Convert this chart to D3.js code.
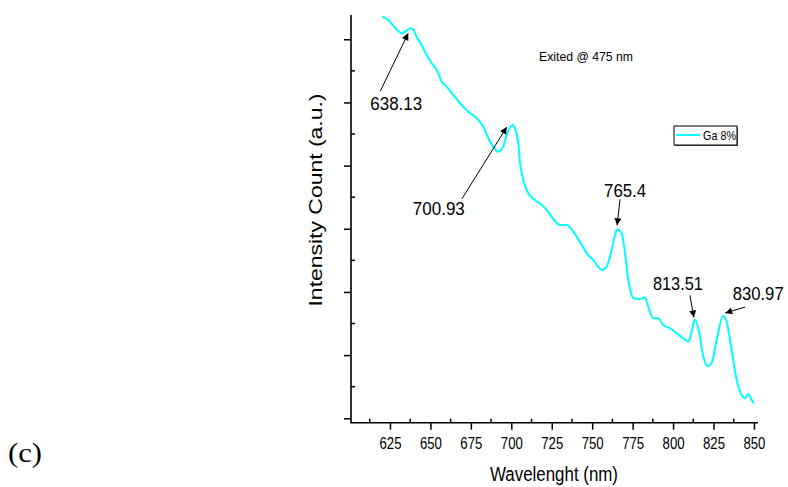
<html>
<head>
<script src="https://d3js.org/d3.v7.min.js"></script>
<style type="text/css">
body { margin: 0; background-color: #ffffff; }
svg { display: block; }
text { fill: #000; }
</style>
</head>
<body>
<script>
// emission spectrum, Ga 8% (excited @ 475 nm)
let wavelength = [620.2, 624.0, 627.0, 630.1, 632.2, 634.3, 635.9, 638.1, 639.5, 641.5,
    644.6, 647.7, 650.8, 653.9, 657.0, 660.0, 664.1, 668.3, 673.4, 678.6,
    682.7, 685.8, 688.8, 691.9, 695.0, 697.1, 700.9, 702.3, 704.3, 705.4,
    707.4, 710.5, 714.6, 718.8, 721.9, 730.1, 734.2, 738.3, 740.4, 742.4,
    746.6, 750.7, 755.9, 758.9, 762.0, 764.1, 765.4, 768.2, 770.3, 772.3,
    773.3, 775.4, 779.5, 782.6, 784.7, 787.7, 790.8, 793.9, 798.1, 802.2,
    806.3, 809.4, 811.5, 813.5, 816.2, 818.7, 821.7, 823.8, 826.9, 831.0,
    833.1, 836.2, 839.3, 842.4, 844.4, 846.5, 848.6, 850.0]
let intensity = [6.357, 6.305, 6.215, 6.131, 6.095, 6.120, 6.147, 6.174, 6.147, 6.041,
    5.909, 5.751, 5.620, 5.514, 5.329, 5.249, 5.118, 4.987, 4.854, 4.749,
    4.616, 4.433, 4.300, 4.220, 4.300, 4.485, 4.643, 4.591, 4.353, 4.037,
    3.772, 3.562, 3.456, 3.377, 3.298, 3.061, 3.061, 2.954, 2.875, 2.796,
    2.612, 2.506, 2.348, 2.400, 2.664, 2.902, 2.992, 2.929, 2.612, 2.189,
    2.058, 1.900, 1.889, 1.915, 1.767, 1.583, 1.583, 1.477, 1.425, 1.346,
    1.266, 1.213, 1.371, 1.564, 1.346, 0.975, 0.828, 0.871, 1.240, 1.619,
    1.529, 1.081, 0.606, 0.369, 0.317, 0.385, 0.290, 0.237]

let peakLabels = ["638.13", "700.93", "765.4", "813.51", "830.97"]
let peakWavelength = [638.13, 700.93, 765.4, 813.51, 830.97]
let xTicks = [625, 650, 675, 700, 725, 750, 775, 800, 825, 850]
let yTicks = [0, 1, 2, 3, 4, 5, 6]
let seriesName = "Ga 8%"

function init() {
    let width = 788
    let height = 487
    let sans = "Liberation Sans, Arial, sans-serif"
    let svg = d3.select("body").append("svg")
        .attr("width", width).attr("height", height)
        .attr("viewBox", [0, 0, width, height])
        .style("font-family", sans)

    let xScale = d3.scaleLinear().domain([600.9, 852.5]).range([351, 758])
    let yScale = d3.scaleLinear().domain([-0.07, 6.384]).range([422.7, 15])

    let defs = svg.append("defs")
    defs.append("marker")
        .attr("id", "arrow")
        .attr("viewBox", "0 0 10 10")
        .attr("refX", 10).attr("refY", 5)
        .attr("markerUnits", "userSpaceOnUse")
        .attr("markerWidth", 9).attr("markerHeight", 7)
        .attr("orient", "auto")
        .append("path")
        .attr("d", "M0,0 L10,5 L0,10 z")
        .attr("fill", "#000")

    // axes: major ticks outside, minor ticks inside
    let xMinor = xTicks.slice(0, -1).map(d => d + 12.5).concat([612.5])
    let xAxis = svg.append("g").attr("transform", "translate(0,422.7)")
    xAxis.call(d3.axisBottom(xScale).tickValues(xTicks).tickSize(7).tickPadding(8)
        .tickFormat(d3.format("d")))
    xAxis.select(".domain").remove()
    xAxis.selectAll("line").attr("stroke-width", 1.5)
    xAxis.selectAll("text")
        .attr("font-size", "16px")
        .attr("font-family", sans)
        .attr("textLength", 22).attr("lengthAdjust", "spacingAndGlyphs")
    xAxis.selectAll(".minor").data(xMinor).enter().append("line")
        .attr("x1", d => xScale(d)).attr("x2", d => xScale(d))
        .attr("y1", 0).attr("y2", -4)
        .attr("stroke", "#000").attr("stroke-width", 1.5)

    let yMinor = yTicks.slice(0, -1).map(d => d + 0.5)
    let yAxis = svg.append("g").attr("transform", "translate(351,0)")
    yAxis.call(d3.axisLeft(yScale).tickValues(yTicks).tickSize(7).tickFormat(""))
    yAxis.select(".domain").remove()
    yAxis.selectAll("line").attr("stroke-width", 1.5)
    yAxis.selectAll(".minor").data(yMinor).enter().append("line")
        .attr("y1", d => yScale(d)).attr("y2", d => yScale(d))
        .attr("x1", 0).attr("x2", 4)
        .attr("stroke", "#000").attr("stroke-width", 1.5)

    svg.append("path")
        .attr("d", "M351,15 V422.7 H758")
        .attr("fill", "none").attr("stroke", "#000").attr("stroke-width", 1.6)

    // spectrum
    let points = wavelength.map((w, i) => [w, intensity[i]])
    let line = d3.line()
        .x(d => xScale(d[0]))
        .y(d => yScale(d[1]))
        .curve(d3.curveMonotoneX)
    svg.append("path")
        .datum(points)
        .attr("d", line)
        .attr("fill", "none")
        .attr("stroke", "#00ffff")
        .attr("stroke-width", 2)

    // peak annotations: arrow start / tip and label, as pixel offsets from the peak
    let layout = [
        {sx: -31, sy: 63, tx: -3, ty: 5, lx: -15, ly: 82, len: 52},
        {sx: -51, sy: 74, tx: -6, ty: 2, lx: -74, ly: 90, len: 52},
        {sx: 3, sy: -30, tx: 0, ty: -4, lx: 8, ly: -32, len: 42},
        {sx: -5, sy: -24, tx: -1, ty: -2, lx: -17, ly: -29, len: 50},
        {sx: 22, sy: -9, tx: 2, ty: -3, lx: 35, ly: -16, len: 51}
    ]
    let peakY = w => {
        let i = d3.minIndex(wavelength, v => Math.abs(v - w))
        return intensity[i]
    }
    let ann = svg.append("g").selectAll("g")
        .data(peakWavelength)
        .enter()
        .append("g")
    ann.append("line")
        .attr("x1", (d, i) => xScale(d) + layout[i].sx)
        .attr("y1", (d, i) => yScale(peakY(d)) + layout[i].sy)
        .attr("x2", (d, i) => xScale(d) + layout[i].tx)
        .attr("y2", (d, i) => yScale(peakY(d)) + layout[i].ty)
        .attr("stroke", "#000").attr("stroke-width", 1)
        .attr("marker-end", "url(#arrow)")
    ann.append("text")
        .text((d, i) => peakLabels[i])
        .attr("x", (d, i) => xScale(d) + layout[i].lx)
        .attr("y", (d, i) => yScale(peakY(d)) + layout[i].ly)
        .attr("text-anchor", "middle")
        .attr("font-size", "19px")
        .attr("textLength", (d, i) => layout[i].len)
        .attr("lengthAdjust", "spacingAndGlyphs")

    svg.append("text")
        .text("Exited @ 475 nm")
        .attr("x", 539).attr("y", 61)
        .attr("font-size", "13px")
        .attr("textLength", 94).attr("lengthAdjust", "spacingAndGlyphs")

    // legend
    let legend = svg.append("g")
    legend.append("rect")
        .attr("x", 675).attr("y", 127).attr("width", 63).attr("height", 19)
        .attr("fill", "#555")
    legend.append("rect")
        .attr("x", 674).attr("y", 126).attr("width", 63).attr("height", 19)
        .attr("fill", "#fff").attr("stroke", "#000").attr("stroke-width", 1)
    legend.append("line")
        .attr("x1", 676).attr("x2", 700).attr("y1", 135).attr("y2", 135)
        .attr("stroke", "#00ffff").attr("stroke-width", 2)
    legend.append("text")
        .text(seriesName)
        .attr("x", 703).attr("y", 140)
        .attr("font-size", "13px")
        .attr("textLength", 33).attr("lengthAdjust", "spacingAndGlyphs")

    // axis titles
    svg.append("text")
        .text("Wavelenght (nm)")
        .attr("x", 554).attr("y", 481)
        .attr("text-anchor", "middle")
        .attr("font-size", "20px")
        .attr("textLength", 128).attr("lengthAdjust", "spacingAndGlyphs")
    svg.append("text")
        .text("Intensity Count (a.u.)")
        .attr("transform", "translate(322,200) rotate(-90)")
        .attr("text-anchor", "middle")
        .attr("font-size", "18px")
        .attr("textLength", 213).attr("lengthAdjust", "spacingAndGlyphs")

    svg.append("text")
        .text("(c)")
        .attr("x", 8).attr("y", 462)
        .style("font-family", "Liberation Serif, Times New Roman, serif")
        .attr("font-size", "28px")
        .attr("textLength", 34).attr("lengthAdjust", "spacingAndGlyphs")
}
init()
</script>
</body>
</html>
